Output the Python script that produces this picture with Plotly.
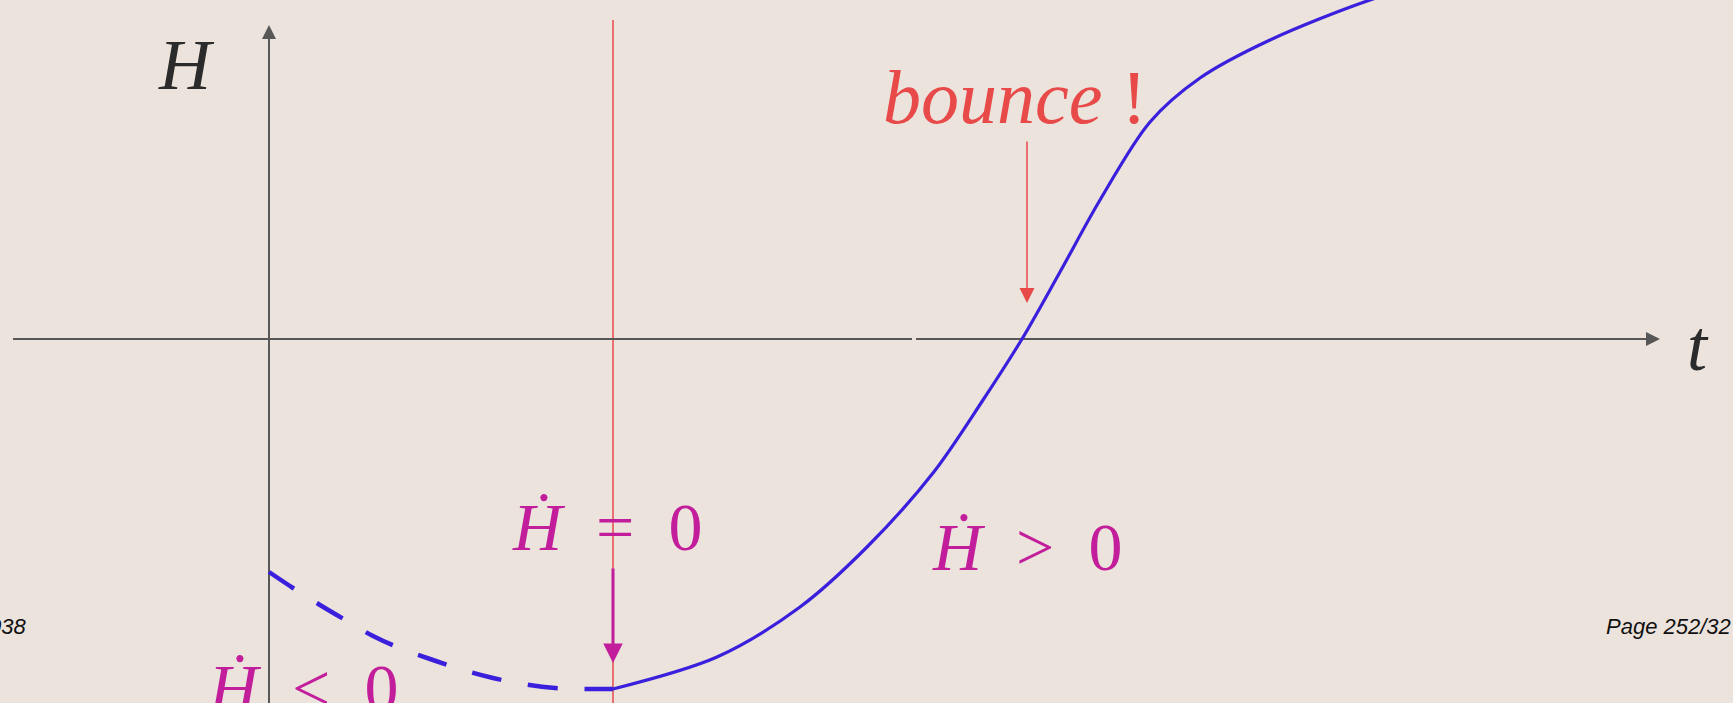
import plotly.graph_objects as go

# ---- data (t, H); 1 unit = 100 px ----
t_contract = [0.0, 0.24, 0.51, 0.78, 1.04, 1.33, 1.64, 1.94, 2.24, 2.54, 2.86, 3.14, 3.44]
H_contract = [-2.33, -2.49, -2.66, -2.82, -2.97, -3.10, -3.21, -3.31, -3.39, -3.45, -3.49, -3.50, -3.50]

t_expand = [3.44, 4.48, 5.31, 5.98, 6.64, 7.14, 7.53, 7.91, 8.31, 8.81, 9.31, 10.01, 11.01, 11.71]
H_expand = [-3.50, -3.18, -2.68, -2.08, -1.34, -0.61, 0.0, 0.67, 1.39, 2.17, 2.61, 2.99, 3.39, 3.59]

t_bounce_time = 3.44   # Hdot = 0 (red vertical line)
t_bounce_point = 7.58  # H = 0 crossing

x_range = [-2.69, 14.64]
y_range = [-3.64, 3.39]

BG = "#ebe3dc"
AXIS = "#575757"
RED = "#e84a4a"
MAG = "#c21e9c"
BLUE = "#3a20dc"
SERIF = "Liberation Serif, DejaVu Serif, serif"
SANS = "Liberation Sans, Arial, sans-serif"

fig = go.Figure()

fig.add_trace(go.Scatter(x=t_contract, y=H_contract, mode="lines",
                         line=dict(color=BLUE, width=4.5, dash="30px,27px", shape="spline"),
                         hoverinfo="skip", showlegend=False))
fig.add_trace(go.Scatter(x=t_expand, y=H_expand, mode="lines",
                         line=dict(color=BLUE, width=3.2, shape="spline", smoothing=0.9),
                         hoverinfo="skip", showlegend=False))

shapes = [
    dict(type="line", xref="x", yref="y", x0=t_bounce_time, x1=t_bounce_time,
         y0=y_range[0], y1=3.19, line=dict(color=RED, width=1.5), layer="below"),
    dict(type="line", xref="x", yref="y", x0=0, x1=0,
         y0=y_range[0], y1=3.0, line=dict(color=AXIS, width=2), layer="below"),
    dict(type="line", xref="x", yref="y", x0=-2.56, x1=6.43,
         y0=0, y1=0, line=dict(color=AXIS, width=2), layer="below"),
    dict(type="line", xref="x", yref="y", x0=6.47, x1=13.8,
         y0=0, y1=0, line=dict(color=AXIS, width=2), layer="below"),
]

ann = []
# axis arrowheads
ann.append(dict(x=13.91, y=0, ax=13.0, ay=0, xref="x", yref="y", axref="x", ayref="y",
                text="", showarrow=True, arrowhead=2, arrowsize=1.4, arrowwidth=2, arrowcolor=AXIS))
ann.append(dict(x=0, y=3.14, ax=0, ay=2.5, xref="x", yref="y", axref="x", ayref="y",
                text="", showarrow=True, arrowhead=2, arrowsize=1.4, arrowwidth=2, arrowcolor=AXIS))
# magenta arrow (Hdot = 0)
ann.append(dict(x=t_bounce_time, y=-3.24, ax=t_bounce_time, ay=-2.28, xref="x", yref="y",
                axref="x", ayref="y", text="", showarrow=True, arrowhead=2, arrowsize=1.3,
                arrowwidth=3, arrowcolor=MAG))
# red bounce arrow
ann.append(dict(x=t_bounce_point, y=0.36, ax=t_bounce_point, ay=1.99, xref="x", yref="y",
                axref="x", ayref="y", text="", showarrow=True, arrowhead=2, arrowsize=2.0,
                arrowwidth=1.5, arrowcolor=RED))

def label(text, x, y, color, size=72, family=SERIF, xanchor="center", yanchor="middle"):
    ann.append(dict(x=x, y=y, xref="x", yref="y", text=text, showarrow=False,
                    font=dict(family=family, size=size, color=color),
                    xanchor=xanchor, yanchor=yanchor))

SP = "\u2002"
label("<i>H</i>", -0.83, 2.74, "#2b2b2b")
label("<i>t</i>", 14.29, -0.07, "#2b2b2b")
label("<i>bounce</i> !", 7.46, 2.42, RED, size=76)
label("<i>Ḣ</i>" + SP + "=" + SP + "0", 3.38, -1.88, MAG, size=68)
label("<i>Ḣ</i>" + SP + ">" + SP + "0", 7.58, -2.08, MAG, size=68)
label("<i>Ḣ</i>" + SP + "<" + SP + "0", 0.34, -3.49, MAG, size=68)

ann.append(dict(x=0, y=-2.87, xref="paper", yref="y", text="<i>038</i>", showarrow=False,
                font=dict(family=SANS, size=22, color="#111111"), xanchor="right", xshift=28))
ann.append(dict(x=1, y=-2.87, xref="paper", yref="y", text="<i>Page 252/32</i>", showarrow=False,
                font=dict(family=SANS, size=22, color="#111111"), xanchor="right"))

fig.update_layout(
    width=1733, height=703, autosize=False,
    margin=dict(l=0, r=0, t=0, b=0),
    paper_bgcolor=BG, plot_bgcolor=BG,
    xaxis=dict(range=x_range, visible=False, fixedrange=True),
    yaxis=dict(range=y_range, visible=False, fixedrange=True),
    shapes=shapes, annotations=ann,
)

fig.write_html("out.html", config={"displayModeBar": False},
               post_script="document.body.style.margin='0';document.body.style.overflow='hidden';document.body.style.background='#ebe3dc';")
